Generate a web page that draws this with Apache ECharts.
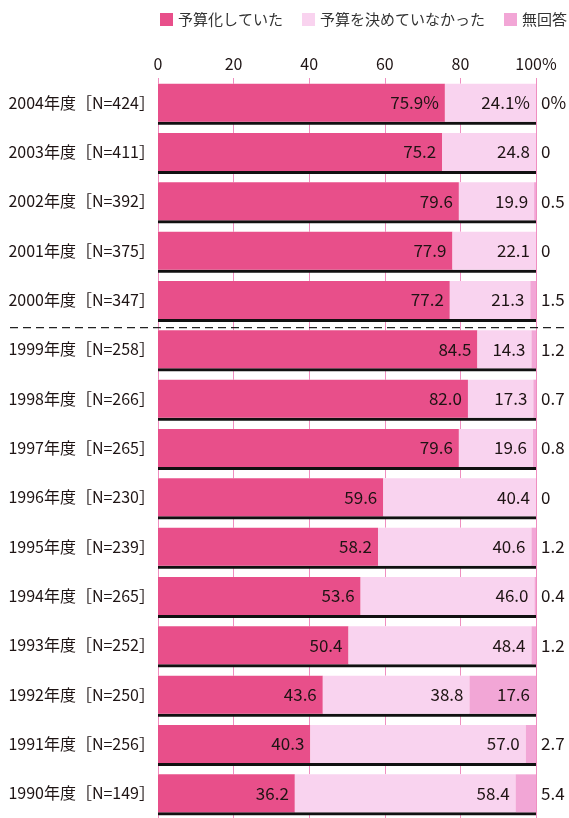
<!DOCTYPE html>
<html>
<head>
<meta charset="utf-8">
<script src="https://cdn.jsdelivr.net/npm/echarts@6/dist/echarts.min.js"></script>
<style>
html,body{margin:0;padding:0;background:#fff;}
#chart{width:569px;height:818px;}
</style>
</head>
<body>
<div id="chart"></div>
<script>
const categories = [
  '2004年度［N=424］','2003年度［N=411］','2002年度［N=392］','2001年度［N=375］','2000年度［N=347］',
  '1999年度［N=258］','1998年度［N=266］','1997年度［N=265］','1996年度［N=230］','1995年度［N=239］',
  '1994年度［N=265］','1993年度［N=252］','1992年度［N=250］','1991年度［N=256］','1990年度［N=149］'
];
const budgeted  = [75.9,75.2,79.6,77.9,77.2,84.5,82.0,79.6,59.6,58.2,53.6,50.4,43.6,40.3,36.2];
const undecided = [24.1,24.8,19.9,22.1,21.3,14.3,17.3,19.6,40.4,40.6,46.0,48.4,38.8,57.0,58.4];
const noAnswer  = [0,0,0.5,0,1.5,1.2,0.7,0.8,0,1.2,0.4,1.2,17.6,2.7,5.4];
const seriesNames = ['予算化していた','予算を決めていなかった','無回答'];
const xTicks = [0,20,40,60,80,100];

const FONT = "'Noto Sans CJK JP', 'Noto Sans', sans-serif";
const TXT = '#1e1414';

const chart = echarts.init(document.getElementById('chart'));
const fmt1 = p => p.dataIndex === 0 ? p.value.toFixed(1) + '%' : p.value.toFixed(1);

const noAnswerData = noAnswer.map(v => {
  if (v > 10) return {value: v, label: {position: 'insideRight', distance: 6}};
  return v;
});
// full-width backing bars that cast the black underline
const totals = budgeted.map((v, i) => v + undecided[i] + noAnswer[i]);

chart.setOption({
  animation: false,
  textStyle: {fontFamily: FONT},
  legend: {
    top: 7, left: 155, width: 414,
    icon: 'rect', itemWidth: 13, itemHeight: 13, itemGap: 19,
    textStyle: {fontSize: 15, color: '#333', fontFamily: FONT},
    data: seriesNames
  },
  grid: {left: 158, right: 33, top: 78, bottom: 0, containLabel: false},
  xAxis: {
    type: 'value', position: 'top', min: 0, max: 100, interval: 20,
    axisLine: {show: false}, axisTick: {show: false},
    splitLine: {show: true, lineStyle: {color: '#ef8ec0', width: 1}},
    axisLabel: {
      fontSize: 16, color: TXT, margin: 6, fontFamily: FONT,
      formatter: v => xTicks.indexOf(v) >= 0 ? (v === 100 ? '100%' : String(v)) : ''
    }
  },
  yAxis: {
    type: 'category', inverse: true, data: categories,
    axisLine: {show: false}, axisTick: {show: false},
    axisLabel: {fontSize: 16, color: TXT, margin: 3, fontFamily: FONT}
  },
  series: [
    {
      name: 'back', type: 'bar', barWidth: 38, barGap: '-100%', z: 1, silent: true,
      data: totals,
      itemStyle: {color: '#ffffff', shadowColor: '#111', shadowOffsetY: 3, shadowBlur: 0},
      label: {show: false}
    },
    {
      name: seriesNames[0], type: 'bar', stack: 't', barWidth: 38, barGap: '-100%', z: 2,
      data: budgeted,
      itemStyle: {color: '#e84f8a'},
      label: {show: true, position: 'insideRight', distance: 6, fontSize: 17, color: TXT, fontFamily: FONT, formatter: fmt1}
    },
    {
      name: seriesNames[1], type: 'bar', stack: 't', barWidth: 38, z: 2,
      data: undecided,
      itemStyle: {color: '#f9d3ef'},
      label: {show: true, position: 'insideRight', distance: 6, fontSize: 17, color: TXT, fontFamily: FONT, formatter: fmt1}
    },
    {
      name: seriesNames[2], type: 'bar', stack: 't', barWidth: 38, z: 2,
      data: noAnswerData,
      itemStyle: {color: '#f2a6d6'},
      label: {show: true, position: 'right', distance: 5, fontSize: 17, color: TXT, fontFamily: FONT,
        formatter: p => {
          const v = p.value;
          const s = v > 10 ? v.toFixed(1) : String(v);
          return p.dataIndex === 0 ? s + '%' : s;
        }}
    }
  ]
});

// dashed separator between 2000 and 1999, positioned via the category axis scale
const y1 = chart.convertToPixel({yAxisIndex: 0}, categories[4]);
const y2 = chart.convertToPixel({yAxisIndex: 0}, categories[5]);
const ySep = (y1 + y2) / 2 + 3;
chart.setOption({
  graphic: [{
    type: 'line', z: 100,
    shape: {x1: 10, y1: ySep, x2: 569, y2: ySep},
    style: {stroke: '#222', lineWidth: 1.3, lineDash: [8, 5]}
  }]
});
</script>
</body>
</html>
